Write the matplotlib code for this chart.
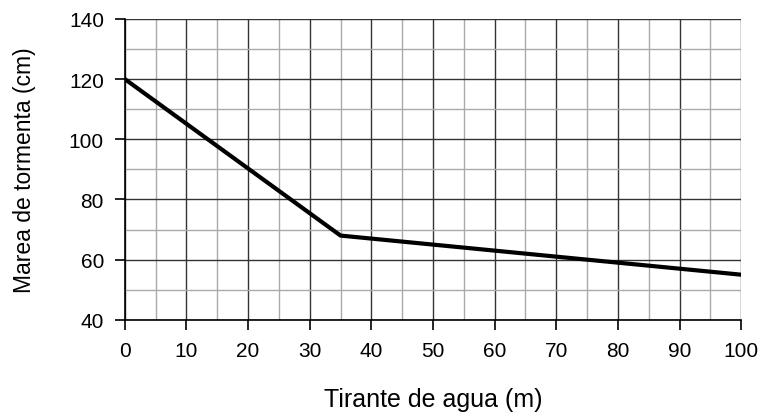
import matplotlib
matplotlib.use("Agg")
import matplotlib.pyplot as plt
from matplotlib.ticker import MultipleLocator

plt.rcParams['font.family'] = ['Liberation Sans', 'DejaVu Sans']

# datos
tirante = [0, 35, 50, 70, 80, 100]
marea = [120, 68, 65, 61, 59, 55]

fig = plt.figure(figsize=(7.61, 4.14), dpi=100)
ax = fig.add_axes([0.164, 0.225, 0.81, 0.727])

ax.plot(tirante, marea, color='black', linewidth=3.0, solid_joinstyle='miter', zorder=3)

ax.set_xlim(0, 100)
ax.set_ylim(40, 140)
ax.xaxis.set_major_locator(MultipleLocator(10))
ax.xaxis.set_minor_locator(MultipleLocator(5))
ax.yaxis.set_major_locator(MultipleLocator(20))
ax.yaxis.set_minor_locator(MultipleLocator(10))
ax.grid(which='major', color='#333333', linewidth=1.0)
ax.grid(which='minor', color='#aaaaaa', linewidth=1.0)

for s in ['top', 'right']:
    ax.spines[s].set_visible(False)
for s in ['left', 'bottom']:
    ax.spines[s].set_linewidth(1.2)

ax.tick_params(which='major', direction='out', length=7, width=1.2, labelsize=15, pad=8)
ax.tick_params(which='minor', length=0)

ax.set_xlabel('Tirante de agua (m)', fontsize=18, va='center')
ax.set_ylabel('Marea de tormenta (cm)', fontsize=16.5, va='center')
ax.xaxis.set_label_coords(0.5, -0.262)
ax.yaxis.set_label_coords(-0.163, 0.5)

fig.savefig('out.png', dpi=100)
